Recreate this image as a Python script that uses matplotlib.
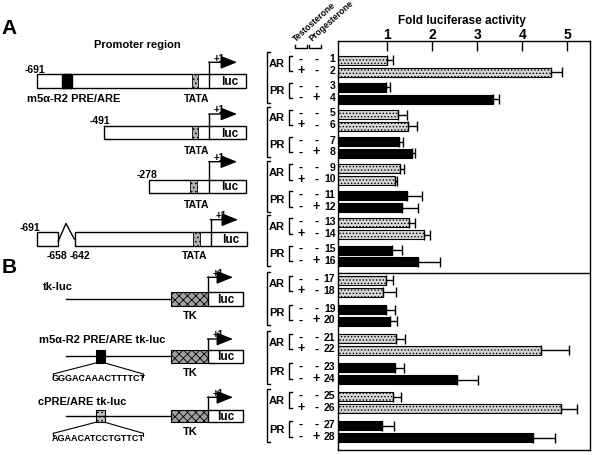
import numpy as np
import matplotlib.pyplot as plt
from matplotlib.patches import Rectangle

plt.rcParams['font.family'] = ['Liberation Sans', 'DejaVu Sans']
plt.rcParams['font.weight'] = 'bold'
plt.rcParams['hatch.linewidth'] = 0.6
plt.rcParams['hatch.color'] = '#7a7a7a'

# fold luciferase activity, lanes 1-28
values = [1.00, 4.64, 0.96, 3.36, 1.24, 1.45, 1.26, 1.55,
          1.29, 1.16, 1.43, 1.33, 1.47, 1.82, 1.10, 1.68,
          0.96, 0.91, 0.97, 1.06, 1.20, 4.41, 1.16, 2.55,
          1.13, 4.86, 0.87, 4.25]
errors = [0.12, 0.25, 0.09, 0.13, 0.20, 0.21, 0.09, 0.06,
          0.07, 0.06, 0.33, 0.34, 0.14, 0.13, 0.23, 0.48,
          0.17, 0.29, 0.21, 0.16, 0.20, 0.64, 0.21, 0.47,
          0.17, 0.35, 0.28, 0.48]
receptor = ['AR', 'AR', 'PR', 'PR'] * 7
testosterone = ['-', '+', '-', '-'] * 7
progesterone = ['-', '-', '-', '+'] * 7
ticks = [1, 2, 3, 4, 5]

# vertical layout (pixel rows)
ypos = []
cur = 61.3
for i in range(28):
    if i > 0:
        if i == 16:
            cur += 18.6
        elif i % 2 == 1:
            cur += 11.8
        else:
            cur += 11.8 + (3.5 if i < 16 else 5.5)
    ypos.append(cur)
ypos = np.array(ypos)

fig = plt.figure(figsize=(5.94, 4.56), dpi=100)

# overlay axes in pixel units for diagrams and labels
ov = fig.add_axes([0, 0, 1, 1])
ov.set_xlim(0, 594)
ov.set_ylim(456, 0)
ov.axis('off')

# bar chart
x0 = -0.1
ax = fig.add_axes([338 / 594, 1 - 451 / 456, 252 / 594, 409 / 456])
colors = ['#d6d6d6' if r == 'AR' else 'black' for r in receptor]
hatches = ['.....' if r == 'AR' else None for r in receptor]
for y, v, c, h in zip(ypos, values, colors, hatches):
    ax.barh(y, v - x0, left=x0, height=9, color=c, edgecolor='black',
            linewidth=0.8, hatch=h)
vals = np.array(values)
ax.errorbar(vals, ypos, xerr=[np.zeros(28), errors], fmt='none',
            ecolor='black', elinewidth=1, capsize=3.5, capthick=1)
ax.axhline((ypos[15] + ypos[16]) / 2 + 1.5, color='black', lw=1)
ax.set_xlim(x0, 5.51)
ax.set_ylim(451, 42)
ax.set_yticks([])
ax.set_xticks(ticks)
ax.xaxis.tick_top()
ax.tick_params(axis='x', direction='in', length=7, width=1, pad=0,
               labelsize=10)
for lab in ax.get_xticklabels():
    lab.set_fontweight('bold')
for s in ax.spines.values():
    s.set_linewidth(1)
ov.text(462, 21, 'Fold luciferase activity', ha='center', va='center',
        fontsize=8.5, fontweight='bold')

# row labels
for i, y in enumerate(ypos):
    ov.text(301, y - 2, testosterone[i], ha='center', va='center',
            fontsize=9, fontweight='bold')
    ov.text(316.5, y - 2, progesterone[i], ha='center', va='center',
            fontsize=9, fontweight='bold')
    ov.text(335.5, y - 2, str(i + 1), ha='right', va='center',
            fontsize=7.5, fontweight='bold')

for g in range(7):
    a, b = ypos[4 * g], ypos[4 * g + 3]
    ov.plot([269.5, 266.7, 266.7, 269.5], [a - 8, a - 8, b + 4, b + 4],
            color='black', lw=1)
    for k, name in ((0, 'AR'), (2, 'PR')):
        t, u = ypos[4 * g + k], ypos[4 * g + k + 1]
        ov.plot([292, 289.3, 289.3, 292], [t - 4.5, t - 4.5, u - 1, u - 1],
                color='black', lw=1)
        ov.text(277, (t + u) / 2 - 3, name, ha='center', va='center',
                fontsize=8, fontweight='bold')

# column headers
for xa, xb, label, xt in ((295, 306.7, 'Testosterone', 297),
                          (309.3, 320.7, 'Progesterone', 313.5)):
    ov.plot([xa, xa, xb, xb], [45.5, 49.3, 49.3, 45.5], color='black', lw=1)
    ov.text(xt, 43.5, label, rotation=42, rotation_mode='anchor',
            ha='left', va='bottom', fontsize=6.2, fontweight='bold')

# panel letters
ov.text(9, 28, 'A', ha='center', va='center', fontsize=15, fontweight='bold')
ov.text(9, 268, 'B', ha='center', va='center', fontsize=15, fontweight='bold')
ov.text(137, 45, 'Promoter region', ha='center', va='center', fontsize=8,
        fontweight='bold')


def box(x1, x2, y1, y2, fc='white', hatch=None, lw=1):
    ov.add_patch(Rectangle((x1, y1), x2 - x1, y2 - y1, facecolor=fc,
                           edgecolor='black', lw=lw, hatch=hatch))


def start_arrow(x, ytop, yline, xend=237):
    ov.plot([x, x], [ytop, yline], color='black', lw=1)
    ov.annotate('', xy=(xend, yline), xytext=(x - 0.5, yline),
                arrowprops=dict(arrowstyle='-|>,head_length=1.0,head_width=0.4',
                                color='black', lw=1, shrinkA=0, shrinkB=0))
    ov.text(x + 10, yline - 4.5, '+1', ha='center', va='center', fontsize=7,
            fontweight='bold')


def lbl(x, y, s, ha='center', size=7.5):
    ov.text(x, y, s, ha=ha, va='center', fontsize=size, fontweight='bold')


tata_fc = '#b0b0b0'

# construct 1
box(36.7, 245.7, 75.3, 88.7)
box(62, 72.3, 75.3, 88.7, fc='black')
box(192.3, 198.3, 75.3, 88.7, fc=tata_fc, hatch='....', lw=0.6)
ov.plot([209.3, 209.3], [75.3, 88.7], color='black', lw=1)
lbl(230, 82, 'luc', size=8.5)
start_arrow(209.3, 75.3, 63.3)
lbl(35, 70, '-691')
lbl(26.7, 99.3, 'm5\u03b1-R2 PRE/ARE', ha='left', size=8)
lbl(196.7, 99, 'TATA')

# construct 2
box(104, 245.7, 127, 140.3)
box(191.7, 198, 127, 140.3, fc=tata_fc, hatch='....', lw=0.6)
ov.plot([209.3, 209.3], [127, 140.3], color='black', lw=1)
lbl(230, 134, 'luc', size=8.5)
start_arrow(209.3, 127, 115)
lbl(100, 120.7, '-491')
lbl(196.7, 150.7, 'TATA')

# construct 3
box(149.3, 245.7, 180.7, 194)
box(190, 196.7, 180.7, 194, fc=tata_fc, hatch='....', lw=0.6)
ov.plot([209.3, 209.3], [180.7, 194], color='black', lw=1)
lbl(230, 187.5, 'luc', size=8.5)
start_arrow(209.3, 180.7, 162.7)
lbl(147, 175, '-278')
lbl(196.7, 205, 'TATA')

# construct 4 (deletion)
box(37.3, 58.3, 233.3, 246.7)
ov.plot([58.3, 66, 74.3], [242, 224.5, 240], color='black', lw=1)
box(74.7, 246.7, 233.3, 246.7)
box(193.3, 200, 233.3, 246.7, fc=tata_fc, hatch='....', lw=0.6)
ov.plot([210.7, 210.7], [233.3, 246.7], color='black', lw=1)
lbl(231, 240, 'luc', size=8.5)
start_arrow(210.7, 233.3, 220.7, xend=238)
lbl(30, 227.7, '-691')
lbl(56.7, 256, '-658')
lbl(80, 256, '-642')
lbl(195, 256, 'TATA')

# panel B constructs
tk_rows = [
    ('tk-luc', 43, 287.3, 293.3, 307.3, 278.3, None, None),
    ('m5\u03b1-R2 PRE/ARE tk-luc', 39.3, 340, 350.5, 364, 340,
     'black', 'GGGACAAACTTTTCT'),
    ('cPRE/ARE tk-luc', 37.7, 401.7, 410.7, 423.3, 398.3,
     '#c4c4c4', 'AGAACATCCTGTTCT'),
]
for name, nx, ny, yt, yb, ya, elem, seq in tk_rows:
    ym = (yt + yb) / 2
    lbl(nx, ny, name, ha='left', size=8)
    ov.plot([66, 170.7], [ym, ym], color='black', lw=1)
    box(170.7, 208, yt, yb, fc='#a0a0a0', hatch='xxxx', lw=0.8)
    box(208, 243, yt, yb)
    lbl(226, ym, 'luc', size=8.5)
    start_arrow(208, yt, ya, xend=233)
    lbl(190, yb + 9, 'TK', size=8)
    if elem is not None:
        box(95.7, 105, yt, yb, fc=elem,
            hatch='....' if elem != 'black' else None, lw=0.8)
        ov.plot([53.3, 95.7], [yb + 11, yb], color='black', lw=0.8)
        ov.plot([105, 143.3], [yb, yb + 11], color='black', lw=0.8)
        ov.plot([53.3, 53.3], [yb + 11, yb + 14], color='black', lw=0.8)
        ov.plot([143.3, 143.3], [yb + 11, yb + 14], color='black', lw=0.8)
        ov.text(98.3, yb + 15, seq, ha='center', va='center', fontsize=6.5,
                fontweight='bold')

fig.savefig('out.png', dpi=100)
